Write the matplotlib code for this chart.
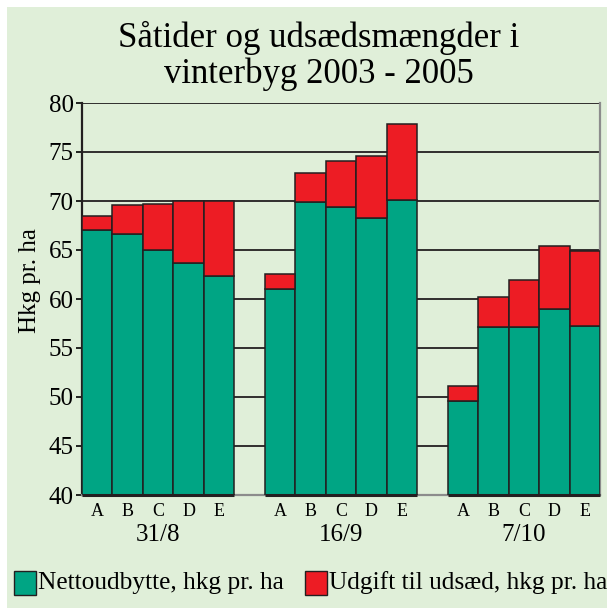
import numpy as np
import matplotlib.pyplot as plt
from matplotlib.patches import Rectangle

plt.rcParams['font.family'] = ['Liberation Serif', 'DejaVu Serif']

# data
groups = ["31/8", "16/9", "7/10"]
letters = ["A", "B", "C", "D", "E"]
netto = [67.0, 66.6, 65.0, 63.7, 62.3,
         61.0, 69.9, 69.4, 68.3, 70.1,
         49.6, 57.1, 57.1, 59.0, 57.2]
total = [68.5, 69.6, 69.7, 70.0, 70.0,
         62.5, 72.9, 74.1, 74.6, 77.9,
         51.1, 60.2, 61.9, 65.4, 64.9]
udgift = [t - n for t, n in zip(total, netto)]

green = "#00A584"
red = "#ED1C24"
bg = "#E0EFD9"
edge = "#231F20"

# slot positions, one empty slot between groups
pos = []
for g in range(len(groups)):
    for i in range(len(letters)):
        pos.append(g * 6 + i)
pos = np.array(pos)

fig = plt.figure(figsize=(6.07, 6.08), dpi=100)
fig.patches.append(Rectangle((7 / 607, 0), 1, 1 - 7 / 608, transform=fig.transFigure,
                             facecolor=bg, edgecolor="none", zorder=-5))
ax = fig.add_axes([82 / 607, 1 - 495 / 608, 518 / 607, 392 / 608])
ax.set_facecolor(bg)

ax.bar(pos, netto, width=1, bottom=0, color=green, edgecolor=edge, linewidth=1.1, zorder=3)
ax.bar(pos, udgift, width=1, bottom=netto, color=red, edgecolor=edge, linewidth=1.1, zorder=3)

ax.set_ylim(40, 80)
ax.set_xlim(-0.5, 16.5)
ax.set_yticks(np.arange(40, 81, 5))
ax.grid(axis="y", color="#231F20", lw=1.3, zorder=0)
ax.set_axisbelow(True)
ax.tick_params(axis="y", direction="out", length=4, width=1.2, labelsize=18, pad=2)
ax.tick_params(axis="x", length=0, labelsize=13, pad=6)
ax.set_xticks(pos)
ax.set_xticklabels(letters * len(groups))

ax.spines["left"].set_color(edge)
ax.spines["left"].set_linewidth(1.6)
ax.spines["bottom"].set_color("#8C8C8C")
ax.spines["bottom"].set_linewidth(1.6)
ax.spines["top"].set_visible(False)
ax.spines["right"].set_color("#8C8C8C")
ax.spines["right"].set_linewidth(1.6)

# dark base line under each group of bars
for g in range(len(groups)):
    gp = pos[g * 5:(g + 1) * 5]
    ax.plot([gp[0] - 0.5, gp[-1] + 0.5], [40, 40], color=edge, lw=2.2,
            clip_on=False, solid_capstyle="butt", zorder=4)

for g, name in enumerate(groups):
    ax.text(g * 6 + 2, -0.103, name, transform=ax.get_xaxis_transform(),
            ha="center", va="center", fontsize=18)

fig.text(30 / 607, 1 - 281 / 608, "Hkg pr. ha", rotation=90, ha="center", va="center", fontsize=18)
fig.text(319 / 607, 1 - 56 / 608, "Såtider og udsædsmængder i\nvinterbyg 2003 - 2005",
         ha="center", va="center", fontsize=25, linespacing=1.12)

# legend
fig.patches.append(Rectangle((14 / 607, 1 - 595 / 608), 22 / 607, 24 / 608, transform=fig.transFigure,
                             facecolor=green, edgecolor=edge, lw=1))
fig.text(38 / 607, 1 - 583 / 608, "Nettoudbytte, hkg pr. ha", ha="left", va="center", fontsize=18.3)
fig.patches.append(Rectangle((305 / 607, 1 - 595 / 608), 22 / 607, 24 / 608, transform=fig.transFigure,
                             facecolor=red, edgecolor=edge, lw=1))
fig.text(329 / 607, 1 - 583 / 608, "Udgift til udsæd, hkg pr. ha", ha="left", va="center", fontsize=18.3)

fig.savefig("out.png", dpi=100)
